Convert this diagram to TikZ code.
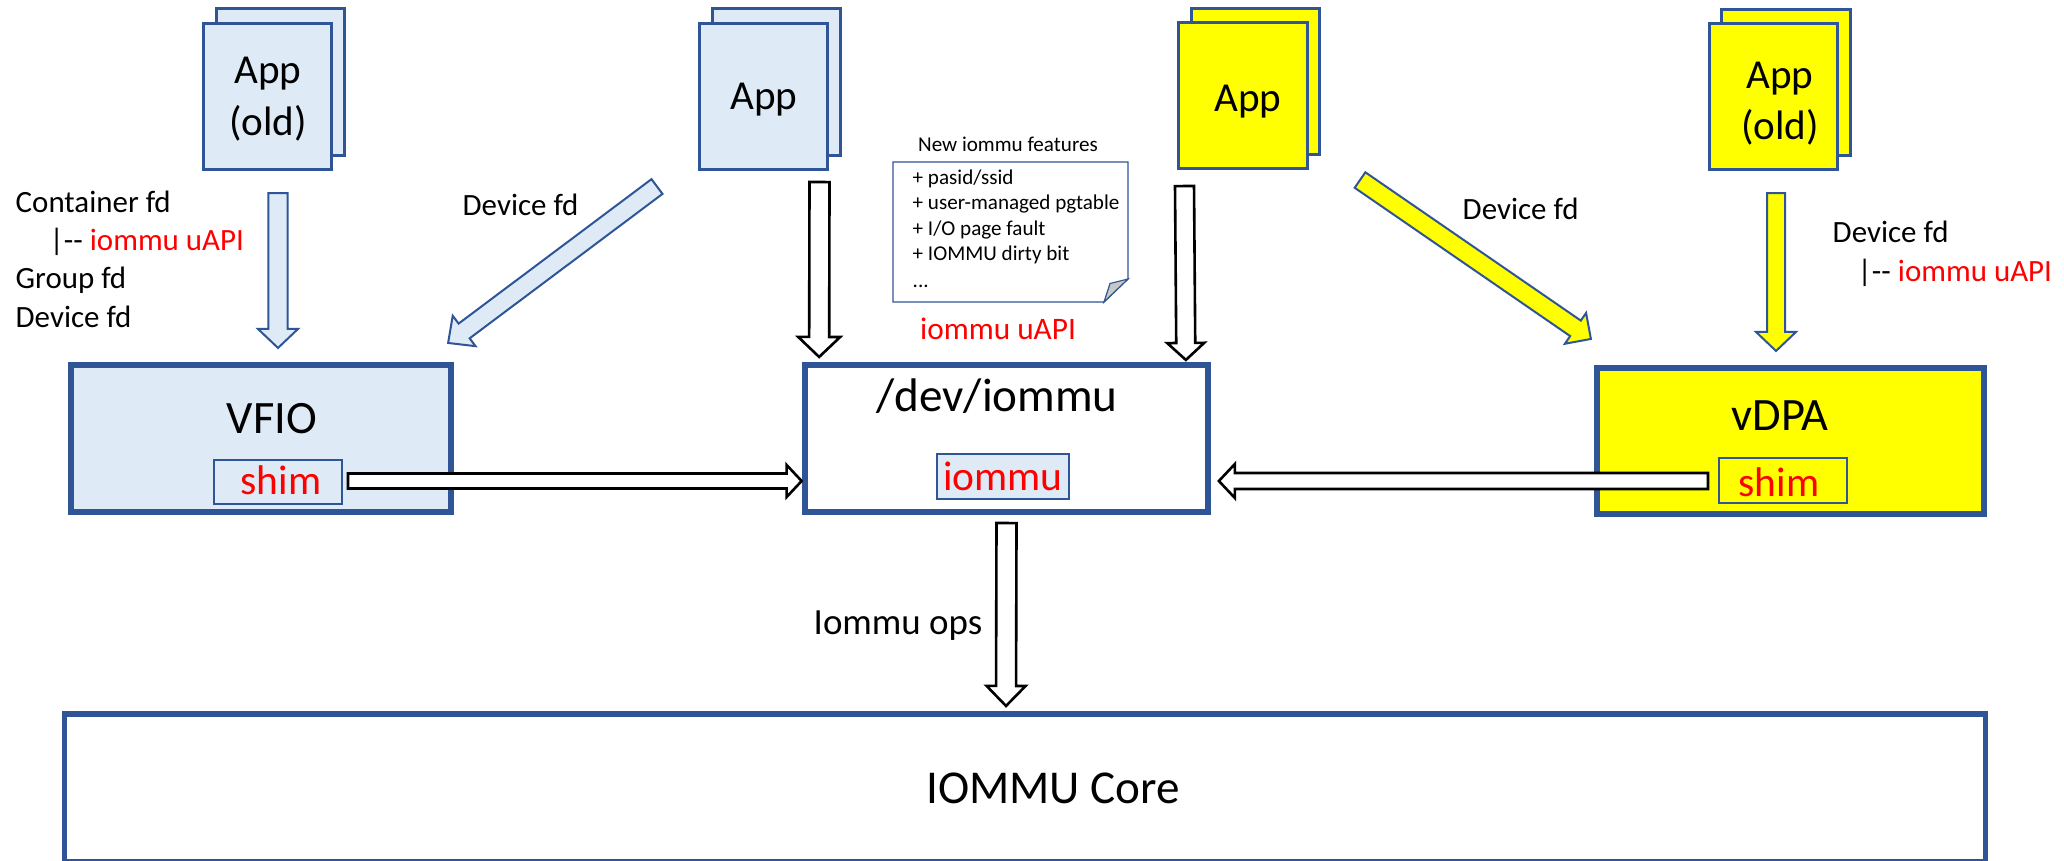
\documentclass[tikz,border=0pt]{standalone}
\usepackage{fontspec}
\setmainfont{Carlito}
\usetikzlibrary{calc}
\definecolor{boxblue}{HTML}{2F5597}
\definecolor{lightblue}{HTML}{DEEBF7}
\definecolor{ylw}{HTML}{FFFF00}
\definecolor{redtxt}{HTML}{FF0000}
\definecolor{foldgrey}{HTML}{C8C8C8}

% #1 style, #2 start, #3 end (tip), #4 shaft half width, #5 head half width, #6 head length
\newcommand\blockarrow[6]{%
  \coordinate (ba-s) at (#2);
  \coordinate (ba-e) at (#3);
  \coordinate (ba-h) at ($(ba-e)!#6!(ba-s)$);
  \draw[#1] ($(ba-s)!#4!90:(ba-e)$) -- ($(ba-h)!#4!90:(ba-e)$) -- ($(ba-h)!#5!90:(ba-e)$) -- (ba-e) -- ($(ba-h)!#5!-90:(ba-e)$) -- ($(ba-h)!#4!-90:(ba-e)$) -- ($(ba-s)!#4!-90:(ba-e)$) -- cycle;
}

\begin{document}
\begin{tikzpicture}[x=0.01cm,y=-0.01cm,
  appbox/.style={draw=boxblue, line width=0.03cm, minimum width=1.28cm, minimum height=1.46cm, inner sep=0pt, outer sep=0pt},
  bigbox/.style={draw=boxblue, line width=0.058cm, inner sep=0pt, outer sep=0pt},
  smallbox/.style={draw=boxblue, line width=0.02cm, inner sep=0pt, outer sep=0pt, minimum width=1.28cm, minimum height=0.43cm},
  whitearrow/.style={fill=white, draw=black, line width=0.026cm, line join=miter},
  bluearrow/.style={fill=lightblue, draw=boxblue, line width=0.02cm, line join=miter},
  yellowarrow/.style={fill=ylw, draw=boxblue, line width=0.02cm, line join=miter},
  apptxt/.style={font=\fontsize{11.7}{14}\selectfont, anchor=base, inner sep=0pt},
  titletxt/.style={font=\fontsize{13.2}{16}\selectfont, anchor=base, inner sep=0pt},
  redtxt/.style={font=\fontsize{11.8}{14}\selectfont, text=redtxt, anchor=base, inner sep=0pt},
  lbl/.style={font=\fontsize{8.8}{10.5}\selectfont, anchor=base west, inner sep=0pt},
  notetxt/.style={font=\fontsize{6}{7.2}\selectfont, anchor=base west, inner sep=0pt},
  noteline/.style={draw=boxblue, line width=0.012cm}
]
\useasboundingbox (0,0) rectangle (2064,861);

% ---------- Apps ----------
\node[appbox, fill=lightblue] (appoldB) at (280.5,82) {};
\node[appbox, fill=lightblue] (appold) at (267.5,96.5) {};
\node[apptxt] (appoldt1) at (268,84) {App};
\node[apptxt] (appoldt2) at (268,136) {(old)};

\node[appbox, fill=lightblue] (appB) at (776.5,82) {};
\node[appbox, fill=lightblue] (app) at (763.5,96.5) {};
\node[apptxt] (appt) at (764,110) {App};

\node[appbox, fill=ylw] (yappB) at (1255.5,81.5) {};
\node[appbox, fill=ylw] (yapp) at (1243,95.5) {};
\node[apptxt] (yappt) at (1248,112) {App};

\node[appbox, fill=ylw] (yappoldB) at (1786,82.5) {};
\node[appbox, fill=ylw] (yappold) at (1773.5,96.5) {};
\node[apptxt] (yappoldt1) at (1780,89) {App};
\node[apptxt] (yappoldt2) at (1780,140) {(old)};

% ---------- Main boxes ----------
\node[bigbox, fill=lightblue, minimum width=3.805cm, minimum height=1.475cm] (vfio) at (261,438.5) {};
\node[titletxt] (vfiot) at (272,433) {VFIO};
\node[smallbox, fill=lightblue] (vshim) at (278,482) {};
\node[redtxt] (vshimt) at (281,494) {shim};

\node[bigbox, fill=white, minimum width=4.02cm, minimum height=1.475cm] (dev) at (1006.5,438.5) {};
\node[titletxt, font=\fontsize{13.4}{16}\selectfont] (devt) at (997,411.5) {/dev/iommu};
\node[smallbox, fill=lightblue, minimum width=1.31cm, minimum height=0.44cm] (iommu) at (1003,476.5) {};
\node[redtxt] (iommut) at (1003,490) {iommu};

\node[bigbox, fill=ylw, minimum width=3.875cm, minimum height=1.465cm] (vdpa) at (1790.5,441) {};
\node[titletxt] (vdpat) at (1780,431) {vDPA};
\node[smallbox, fill=ylw, minimum height=0.44cm] (dshim) at (1783,480.5) {};
\node[redtxt] (dshimt) at (1779,496) {shim};

\node[bigbox, fill=white, minimum width=19.2cm, minimum height=1.4775cm] (core) at (1025,787.6) {};
\node[titletxt, font=\fontsize{13.4}{16}\selectfont] (coret) at (1053,803) {IOMMU Core};

% ---------- Note ----------
\draw[noteline, fill=white] (893,162) -- (1128,162) -- (1128,279) -- (1104,302) -- (893,302) -- cycle;
\draw[noteline, fill=foldgrey] (1128,279) -- (1110,283.5) -- (1104,302) -- cycle;
\node[notetxt, anchor=base] (notetitle) at (1008,152) {New iommu features};
\node[notetxt] (n1) at (912,185) {+ pasid/ssid};
\node[notetxt] (n2) at (912,210) {+ user-managed pgtable};
\node[notetxt] (n3) at (912,236) {+ I/O page fault};
\node[notetxt] (n4) at (912,261) {+ IOMMU dirty bit};
\node[notetxt] (n5) at (912,288) {...};
\node[lbl, anchor=base, text=redtxt, font=\fontsize{8.9}{10.5}\selectfont] (uapi) at (998,340) {iommu uAPI};

% ---------- Labels ----------
\node[lbl] (l1) at (15,213) {Container fd};
\node[lbl] (l2) at (49,251) {|-{}- \textcolor{redtxt}{iommu uAPI}};
\node[lbl] (l3) at (15,289) {Group fd};
\node[lbl] (l4) at (15,328) {Device fd};
\node[lbl] (l5) at (462,216) {Device fd};
\node[lbl] (l6) at (1462,220) {Device fd};
\node[lbl] (l7) at (1832,243) {Device fd};
\node[lbl] (l8) at (1857,282) {|-{}- \textcolor{redtxt}{iommu uAPI}};
\node[lbl, font=\fontsize{10.5}{12}\selectfont] (l9) at (813,634) {Iommu ops};

% ---------- Arrows ----------
\blockarrow{bluearrow}{$(appold.south)+(10.5,23.5)$}{$(vfio.north)+(17,-16.75)$}{0.095cm}{0.2cm}{0.19cm}
\blockarrow{bluearrow}{$(app.south)+(-106.5,17)$}{$(vfio.north east)+(-3.25,-21.75)$}{0.092cm}{0.19cm}{0.2cm}
\blockarrow{whitearrow}{$(app.south)+(56,12.5)$}{$(dev.north west)+(13.75,-7.75)$}{0.1cm}{0.21cm}{0.2cm}
\blockarrow{whitearrow}{$(yapp.south)+(-58.5,17.5)$}{$(dev.north east)+(-21.75,-4.75)$}{0.095cm}{0.185cm}{0.17cm}
\blockarrow{yellowarrow}{$(yapp.south)+(117,11.5)$}{$(vdpa.north west)+(-5.75,-28.75)$}{0.094cm}{0.187cm}{0.187cm}
\blockarrow{yellowarrow}{$(yappold.south)+(2.5,23.5)$}{$(vdpa.north)+(-14.5,-16.75)$}{0.09cm}{0.2cm}{0.19cm}
\blockarrow{whitearrow}{$(vshim.east)+(6,-1)$}{$(dev.west)+(-3.75,42.5)$}{0.075cm}{0.16cm}{0.15cm}
\blockarrow{whitearrow}{$(dshim.west)+(-11,0.5)$}{$(dev.east)+(11.25,42.5)$}{0.08cm}{0.17cm}{0.16cm}
\blockarrow{whitearrow}{$(dev.south)+(0,10.75)$}{$(core.north)+(-19,-7.75)$}{0.1cm}{0.195cm}{0.2cm}
\end{tikzpicture}
\end{document}
